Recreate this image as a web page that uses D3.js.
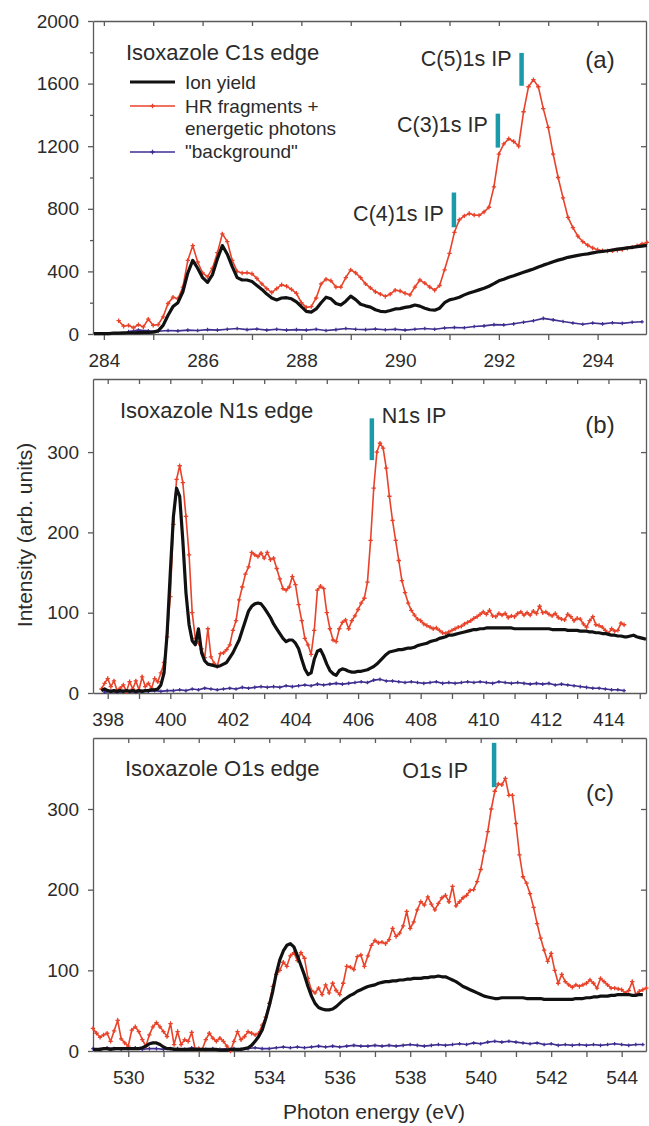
<!DOCTYPE html>
<html>
<head>
<meta charset="utf-8">
<script src="https://cdn.jsdelivr.net/npm/d3@7"></script>
<style>
  body { margin: 0; background: #fff; }
  svg text { font-family: "Liberation Sans", Arial, sans-serif; fill: #2b2b2b; }
  .axis text { font-size: 19px; }
  .axis path, .axis line { stroke: #5a5a5a; stroke-width: 1.3; }
</style>
</head>
<body>
<svg id="chart" width="649" height="1126"></svg>
<script>
// ---- data ----
// each spectrum: first energy (eV), sampling step (eV), intensities

// (a) C1s edge
const ionA = {start: 283.8, step: 0.1, vals: [
  2,2,3,3,5,6,7,8,8,9,
  10,10,12,20,55,120,175,200,270,390,
  470,420,360,330,380,480,565,510,430,360,
  345,345,335,310,285,255,230,218,230,232,
  225,205,175,145,140,160,200,235,225,195,
  185,210,242,220,190,180,172,155,145,142,
  150,160,162,170,175,185,178,165,155,152,
  165,200,218,225,235,250,262,272,282,292,
  305,322,340,350,362,372,384,395,405,416,
  428,440,450,462,472,480,490,496,502,508,
  512,518,524,528,532,537,542,546,550,554,
  558,562,566]};
const hrA = {start: 284.3, step: 0.1, vals: [
  85,50,55,40,60,45,95,55,60,110,
  195,235,225,300,470,565,460,390,365,420,
  520,640,590,470,400,390,392,385,355,320,
  290,265,290,315,305,285,260,200,170,175,
  230,320,350,340,300,300,360,410,390,360,
  320,295,270,255,240,255,280,275,260,250,
  300,345,325,300,280,310,410,515,650,730,
  755,770,760,758,780,810,940,1150,1215,1248,
  1230,1200,1420,1580,1625,1580,1440,1320,1150,1000,
  870,745,680,625,590,567,550,538,532,530,
  532,535,540,548,555,565,575,585]};
const bgA = {start: 284.5, step: 0.2, vals: [
  15,25,20,18,22,20,25,22,28,25,
  30,35,28,32,25,30,25,28,25,30,
  22,28,35,30,28,32,27,30,25,30,
  35,30,38,42,40,48,52,60,58,65,
  75,85,100,90,80,70,62,70,65,72,
  68,75,78]};

// (b) N1s edge
const ionB = {start: 397.8, step: 0.1, vals: [
  3,5,3,2,3,2,3,2,3,2,
  3,2,3,2,3,3,4,4,5,10,
  25,75,150,220,255,245,190,125,85,65,
  60,80,50,40,36,35,34,33,34,36,
  38,44,50,58,66,78,90,102,108,111,
  112,111,106,100,94,86,80,74,68,64,
  66,66,62,55,42,30,23,25,42,52,
  54,46,36,28,24,22,28,30,29,27,
  26,26,27,27,28,29,31,33,36,40,
  44,48,51,52,53,54,54,55,56,56,
  57,59,60,61,62,64,65,66,68,69,
  70,72,72,73,74,75,76,77,78,79,
  79,80,80,81,81,81,81,81,81,81,
  81,81,80,80,80,80,80,80,80,80,
  80,80,80,80,79,79,79,79,79,78,
  78,78,78,77,77,77,76,76,75,75,
  74,74,73,72,72,71,71,70,70,71,
  72,70,69,68,67]};
const hrB = {start: 397.8, step: 0.1, vals: [
  5,12,18,8,15,3,6,10,2,14,
  5,15,4,20,8,12,6,18,14,25,
  38,70,120,210,266,283,262,220,172,100,
  68,62,55,44,80,45,37,33,49,50,
  54,60,78,90,116,132,148,157,175,172,
  170,174,168,175,166,168,155,142,130,128,
  132,145,135,110,90,68,60,48,78,128,
  133,130,100,80,66,64,80,88,91,80,
  90,96,104,112,118,138,190,255,300,311,
  305,280,245,215,190,165,140,125,112,103,
  97,92,90,86,84,82,80,81,78,75,
  74,76,78,80,82,83,86,88,90,93,
  95,98,101,98,103,96,95,99,97,99,
  94,96,95,99,101,97,100,97,102,99,
  108,100,101,98,96,99,94,92,91,98,
  95,90,93,92,86,82,90,95,85,84,
  82,78,74,80,77,78,87,85]};
const bgB = {start: 397.9, step: 0.2, vals: [
  1,2,1,2,2,1,2,2,3,2,
  3,3,4,3,5,4,6,5,4,5,
  6,5,7,6,7,8,7,8,7,9,
  8,9,10,9,11,10,11,12,11,12,
  13,14,13,16,17,15,15,14,13,14,
  13,12,13,14,12,13,12,13,14,13,
  14,13,12,14,13,12,13,12,11,12,
  11,12,10,11,10,9,8,7,6,6,
  5,4,4,3]};

// (c) O1s edge
const ionC = {start: 529.0, step: 0.1, vals: [
  2,2,2,3,3,2,3,3,3,3,
  3,3,3,3,4,6,9,10,10,8,
  5,3,3,2,2,2,2,2,2,2,
  2,2,2,2,2,2,1,1,1,2,
  2,2,2,3,4,7,12,18,26,40,
  56,74,96,113,124,131,133,129,118,106,
  94,80,68,59,54,52,51,51,52,55,
  59,63,66,69,71,74,76,78,80,81,
  82,84,85,86,86,87,87,88,88,89,
  89,90,90,90,91,91,92,92,93,92,
  92,90,88,86,83,80,78,76,74,72,
  70,68,67,66,65,65,66,66,66,66,
  66,66,66,65,65,65,65,65,64,64,
  64,64,64,64,64,64,64,65,65,65,
  66,66,67,67,68,68,68,69,69,70,
  70,70,70,69,69,70,70]};
const hrC = {start: 529.0, step: 0.1, vals: [
  28,22,17,20,22,12,25,38,15,10,
  6,26,30,24,14,6,20,30,35,30,
  24,18,34,8,24,8,14,12,23,2,
  3,2,14,22,16,12,16,12,6,0,
  12,24,14,18,24,22,20,22,32,42,
  59,80,95,100,110,105,118,122,112,122,
  115,90,75,72,78,70,82,72,84,75,
  70,84,105,104,101,117,119,105,118,131,
  137,134,135,133,138,152,142,146,155,173,
  152,160,175,185,181,191,182,175,183,190,
  193,185,204,180,185,190,193,199,200,210,
  225,248,272,300,322,331,330,338,317,317,
  282,243,216,208,195,178,158,140,125,111,
  121,100,84,95,86,82,79,82,80,82,
  84,88,84,78,90,86,82,78,78,77,
  76,72,75,86,70,74,76,78]};
const bgC = {start: 529.0, step: 0.2, vals: [
  3,2,4,3,2,3,4,2,3,3,
  2,3,3,2,4,3,2,3,2,3,
  3,2,3,4,3,3,4,5,4,5,
  4,5,6,5,6,5,6,7,6,6,
  7,6,7,6,7,8,7,6,7,8,
  7,8,9,8,10,9,11,12,11,12,
  11,10,9,10,8,9,7,8,7,8,
  7,8,7,8,9,8,7,8,8]};

// axis ticks
const xTicksA = [284,285,286,287,288,289,290,291,292,293,294];
const xTicksB = [398,399,400,401,402,403,404,405,406,407,408,409,410,411,412,413,414,415];
const xTicksC = [530,531,532,533,534,535,536,537,538,539,540,541,542,543,544];
const yTicksA = [0,400,800,1200,1600,2000];
const yMinorA = [200,600,1000,1400,1800];
const yTicksBC = [0,100,200,300];

// ionisation potentials: label, energy, bar from/to (intensity units)
const ipA = [
  {name: 'C(4)1s IP', e: 291.09, lo: 682, hi: 904, ly: 720},
  {name: 'C(3)1s IP', e: 291.98, lo: 1191, hi: 1408, ly: 1293},
  {name: 'C(5)1s IP', e: 292.46, lo: 1586, hi: 1796, ly: 1710}
];
const ipB = [{name: 'N1s IP', e: 406.44, lo: 290, hi: 342, ly: 336}];
const ipC = [{name: 'O1s IP', e: 540.38, lo: 327, hi: 382, ly: 338}];

const legendNames = ['Ion yield', 'HR fragments +', 'energetic photons', '"background"'];

// ---- drawing ----
const C_ION = '#111', C_HR = '#e8432a', C_BG = '#3f2d8f', C_IP = '#1b9aaa';
const X0 = 93, X1 = 646;
const svg = d3.select('#chart');

function toPoints(s) {
  return s.vals.map((v, i) => ({e: +(s.start + i * s.step).toFixed(2), v: v}));
}

function plus(x, y, r) {
  return 'M' + (x - r) + ',' + y + 'h' + (2 * r) + 'M' + x + ',' + (y - r) + 'v' + (2 * r);
}

const panels = [
  {top: 21, bottom: 334, xDom: [283.78, 294.98], yDom: [0, 2000], xTicks: xTicksA,
   yTicks: yTicksA, yMinor: yMinorA, ion: ionA, hr: hrA, bg: bgA, ip: ipA,
   title: 'Isoxazole C1s edge', titleX: 126, titleY: 60, tag: '(a)', tagY: 68},
  {top: 379, bottom: 693, xDom: [397.53, 415.2], yDom: [0, 391], xTicks: xTicksB,
   yTicks: yTicksBC, ion: ionB, hr: hrB, bg: bgB, ip: ipB,
   title: 'Isoxazole N1s edge', titleX: 120, titleY: 418, tag: '(b)', tagY: 433},
  {top: 738, bottom: 1051, xDom: [529.0, 544.69], yDom: [0, 388], xTicks: xTicksC,
   yTicks: yTicksBC, ion: ionC, hr: hrC, bg: bgC, ip: ipC,
   title: 'Isoxazole O1s edge', titleX: 125, titleY: 776, tag: '(c)', tagY: 801}
];

panels.forEach(function (p) {
    let x = d3.scaleLinear().domain(p.xDom).range([X0, X1]);
    let y = d3.scaleLinear().domain(p.yDom).range([p.bottom, p.top]);
    let g = svg.append('g');

    // frame + ticks
    g.append('g').attr('class', 'axis')
        .attr('transform', 'translate(0,' + p.bottom + ')')
        .call(d3.axisBottom(x).tickValues(p.xTicks).tickSize(6).tickSizeOuter(0)
            .tickPadding(14).tickFormat(d => d % 2 === 0 ? d : ''));
    g.append('g').attr('class', 'axis')
        .attr('transform', 'translate(0,' + p.top + ')')
        .call(d3.axisTop(x).tickValues(p.xTicks).tickSize(-5).tickSizeOuter(0).tickFormat(''));
    g.append('g').attr('class', 'axis')
        .attr('transform', 'translate(' + X0 + ',0)')
        .call(d3.axisLeft(y).tickValues(p.yTicks).tickSize(5).tickSizeOuter(0)
            .tickPadding(9).tickFormat(d3.format('d')));
    if (p.yMinor) {
        g.append('g').attr('class', 'axis')
            .attr('transform', 'translate(' + X0 + ',0)')
            .call(d3.axisLeft(y).tickValues(p.yMinor).tickSize(3).tickSizeOuter(0).tickFormat(''))
            .select('.domain').remove();
    }
    g.append('g').attr('class', 'axis')
        .attr('transform', 'translate(' + X1 + ',0)')
        .call(d3.axisRight(y).tickValues(p.yTicks.filter(v => v > 0 && y(v) > p.top + 2))
            .tickSize(-5).tickSizeOuter(0).tickFormat(''));

    let line = d3.line().x(d => x(d.e)).y(d => y(d.v));

    // background
    let bg = toPoints(p.bg);
    g.append('path').datum(bg).attr('d', line)
        .attr('fill', 'none').attr('stroke', C_BG).attr('stroke-width', 1.6);
    g.append('g').selectAll('path').data(bg).enter().append('path')
        .attr('d', d => plus(x(d.e), y(d.v), 1.8))
        .attr('stroke', C_BG).attr('stroke-width', 1.2);

    // HR fragments
    let hr = toPoints(p.hr);
    g.append('path').datum(hr).attr('d', line)
        .attr('fill', 'none').attr('stroke', C_HR).attr('stroke-width', 1.6);
    g.append('g').selectAll('path').data(hr).enter().append('path')
        .attr('d', d => plus(x(d.e), y(d.v), 2.2))
        .attr('stroke', C_HR).attr('stroke-width', 1.3);

    // ion yield
    g.append('path').datum(toPoints(p.ion)).attr('d', line)
        .attr('fill', 'none').attr('stroke', C_ION).attr('stroke-width', 3.2)
        .attr('stroke-linejoin', 'round');

    // IP markers
    p.ip.forEach(function (ip) {
        g.append('line')
            .attr('x1', x(ip.e)).attr('x2', x(ip.e))
            .attr('y1', y(ip.lo)).attr('y2', y(ip.hi))
            .attr('stroke', C_IP).attr('stroke-width', 4.5);
        let right = ip.name === 'N1s IP';
        g.append('text')
            .attr('x', x(ip.e) + (right ? 10 : (ip.name === 'O1s IP' ? -26 : -10)))
            .attr('y', y(ip.ly))
            .attr('text-anchor', right ? 'start' : 'end')
            .style('font-size', '21.5px')
            .text(ip.name);
    });

    g.append('text').attr('x', p.titleX).attr('y', p.titleY)
        .style('font-size', '22px').text(p.title);
    g.append('text').attr('x', 600).attr('y', p.tagY).attr('text-anchor', 'middle')
        .style('font-size', '24px').text(p.tag);
});

// legend of panel (a)
let lg = svg.append('g');
[[C_ION, 82, 3.2, false], [C_HR, 106, 1.6, true], [C_BG, 152, 1.6, true]].forEach(function (s) {
    lg.append('line').attr('x1', 130).attr('x2', 175).attr('y1', s[1]).attr('y2', s[1])
        .attr('stroke', s[0]).attr('stroke-width', s[2]);
    if (s[3]) {
        lg.append('path').attr('d', plus(152.5, s[1], 2.2)).attr('stroke', s[0]).attr('stroke-width', 1.3);
    }
});
[89, 113, 135, 158].forEach(function (yy, i) {
    lg.append('text').attr('x', 185).attr('y', yy).style('font-size', '19px').text(legendNames[i]);
});

// axis titles
svg.append('text')
    .attr('transform', 'translate(24,535) rotate(-90)')
    .attr('text-anchor', 'middle').attr('dominant-baseline', 'central')
    .style('font-size', '21px')
    .text('Intensity (arb. units)');
svg.append('text')
    .attr('x', 374).attr('y', 1119).attr('text-anchor', 'middle')
    .style('font-size', '21px')
    .text('Photon energy (eV)');
</script>
</body>
</html>
